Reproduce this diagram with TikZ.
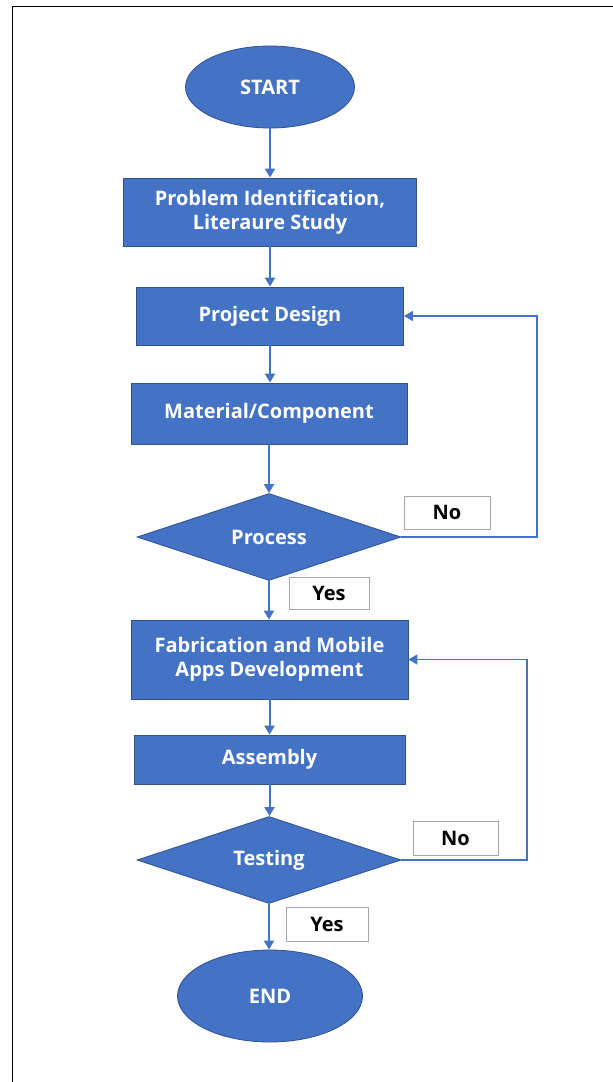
\documentclass[tikz,border=0pt]{standalone}
\usepackage{fontspec}
\setmainfont{Open Sans}
\usepackage{xcolor}
\usetikzlibrary{shapes.geometric,arrows.meta}
\definecolor{FCBlue}{HTML}{4472C4}
\definecolor{FCEdge}{HTML}{2F528F}
\definecolor{FCLine}{HTML}{4472C4}
\definecolor{FCGrey}{HTML}{A6A6A6}
\tikzset{
  stepbox/.style={draw=FCEdge,line width=.8pt,fill=FCBlue,text=white,font=\fontsize{20}{24}\selectfont\bfseries,align=center,inner sep=0pt},
  termnode/.style={ellipse,draw=FCEdge,line width=.8pt,fill=FCBlue,text=white,font=\fontsize{20}{22}\selectfont\bfseries,inner sep=0pt},
  decnode/.style={diamond,aspect=3,draw=FCEdge,line width=.8pt,fill=FCBlue,text=white,font=\fontsize{20}{22}\selectfont\bfseries,inner sep=0pt,minimum width=264pt,minimum height=87pt},
  tagbox/.style={draw=FCGrey,line width=1pt,fill=white,font=\fontsize{20}{22}\selectfont\bfseries,inner sep=0pt},
  flow/.style={FCLine,line width=2pt,-{Triangle[length=9pt,width=10pt]}},
  back/.style={FCLine,line width=1.3pt,-{Triangle[length=9pt,width=10pt]}}
}
\begin{document}
\begin{tikzpicture}[x=1pt,y=-1pt]
\path[use as bounding box] (0,0) rectangle (613,1082);
\fill[white] (0,0) rectangle (613,1082);
\draw[black,line width=1.6pt] (12.5,1082) -- (12.5,6.5) -- (613,6.5);
% main column
\node[termnode,minimum width=169pt,minimum height=82pt] (start) at (270,87) {START};
\node[stepbox,minimum width=293pt,minimum height=68pt] (ident) at (270,212) {Problem Identification,\\Literaure Study};
\node[stepbox,minimum width=267pt,minimum height=58pt] (design) at (270,316) {Project Design};
\node[stepbox,minimum width=276pt,minimum height=61pt] (material) at (269,413.5) {Material/Component};
\node[decnode] (process) at (269,537) {Process};
\node[stepbox,minimum width=277pt,minimum height=79pt] (fab) at (269.5,659.5) {Fabrication and Mobile\\Apps Development};
\node[stepbox,minimum width=271pt,minimum height=49pt] (assembly) at (269.5,759.5) {Assembly};
\node[decnode] (testing) at (269,860) {Testing};
\node[termnode,minimum width=185pt,minimum height=92pt] (end) at (270,996) {END};
% labels
\node[tagbox,minimum width=86pt,minimum height=33pt] (no1) at (447,512.5) {No};
\node[tagbox,minimum width=80pt,minimum height=32pt] (yes1) at (329,593) {Yes};
\node[tagbox,minimum width=85pt,minimum height=34pt] (no2) at (455.5,838) {No};
\node[tagbox,minimum width=82pt,minimum height=34pt] (yes2) at (327,924) {Yes};
\coordinate (loop1) at (537,537);
\coordinate (loop2) at (527,860);
% arrows
\draw[flow] (start) -- (ident);
\draw[flow] (ident) -- (design);
\draw[flow] (design) -- (design |- material.north);
\draw[flow] (material) -- (material |- process.north);
\draw[flow] (process) -- (process |- fab.north);
\draw[flow] (fab) -- (fab |- assembly.north);
\draw[flow] (assembly) -- (assembly |- testing.north);
\draw[flow] (testing) -- (testing |- end.north);
\draw[back] (process.east) -- (loop1) |- (design.east);
\draw[back] (testing.east) -- (loop2) |- (fab.east);
\end{tikzpicture}
\end{document}
